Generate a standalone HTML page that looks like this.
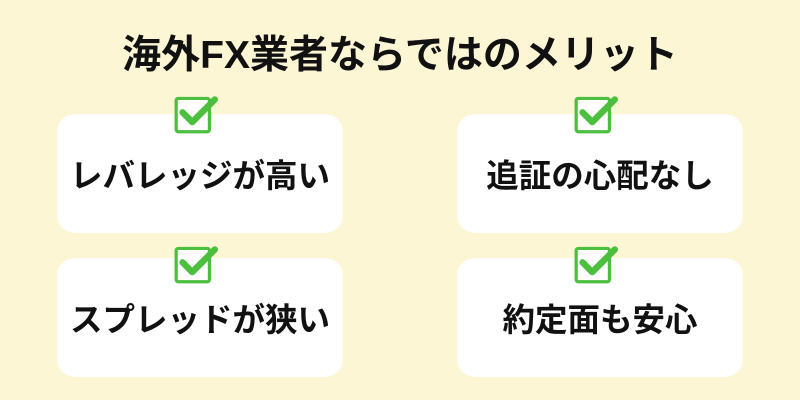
<!DOCTYPE html>
<html><head><meta charset="utf-8"><style>
body{margin:0;width:800px;height:400px;background:#fdf6d5;font-family:"Liberation Sans","Noto Sans CJK JP",sans-serif;position:relative;overflow:hidden}
.t{position:absolute;left:0;width:800px;top:31px;text-align:center;font-size:39px;font-weight:bold;color:#111;line-height:50px}
.c{position:absolute;width:286px;height:119px;background:#fff;border-radius:18px;display:flex;align-items:center;justify-content:center;font-size:32.5px;font-weight:bold;color:#111}
.k{position:absolute;width:44px;height:42px}
</style></head><body>
<div class="t">海外FX業者ならではのメリット</div>
<div class="c" style="left:57px;top:114px">レバレッジが高い</div>
<div class="c" style="left:457px;top:114px">追証の心配なし</div>
<div class="c" style="left:57px;top:258px">スプレッドが狭い</div>
<div class="c" style="left:457px;top:258px">約定面も安心</div>
<svg class="k" style="left:174px;top:93px" viewBox="0 0 41 39"><rect x="2" y="5" width="31" height="31" rx="2" fill="#fff" stroke="#4cbf3f" stroke-width="3"/><path d="M8 18 L17 27 L38 6" fill="none" stroke="#4cbf3f" stroke-width="6" stroke-linecap="round" stroke-linejoin="round"/></svg>
<svg class="k" style="left:574px;top:93px" viewBox="0 0 41 39"><rect x="2" y="5" width="31" height="31" rx="2" fill="#fff" stroke="#4cbf3f" stroke-width="3"/><path d="M8 18 L17 27 L38 6" fill="none" stroke="#4cbf3f" stroke-width="6" stroke-linecap="round" stroke-linejoin="round"/></svg>
<svg class="k" style="left:174px;top:243px" viewBox="0 0 41 39"><rect x="2" y="5" width="31" height="31" rx="2" fill="#fff" stroke="#4cbf3f" stroke-width="3"/><path d="M8 18 L17 27 L38 6" fill="none" stroke="#4cbf3f" stroke-width="6" stroke-linecap="round" stroke-linejoin="round"/></svg>
<svg class="k" style="left:574px;top:243px" viewBox="0 0 41 39"><rect x="2" y="5" width="31" height="31" rx="2" fill="#fff" stroke="#4cbf3f" stroke-width="3"/><path d="M8 18 L17 27 L38 6" fill="none" stroke="#4cbf3f" stroke-width="6" stroke-linecap="round" stroke-linejoin="round"/></svg>
</body></html>
